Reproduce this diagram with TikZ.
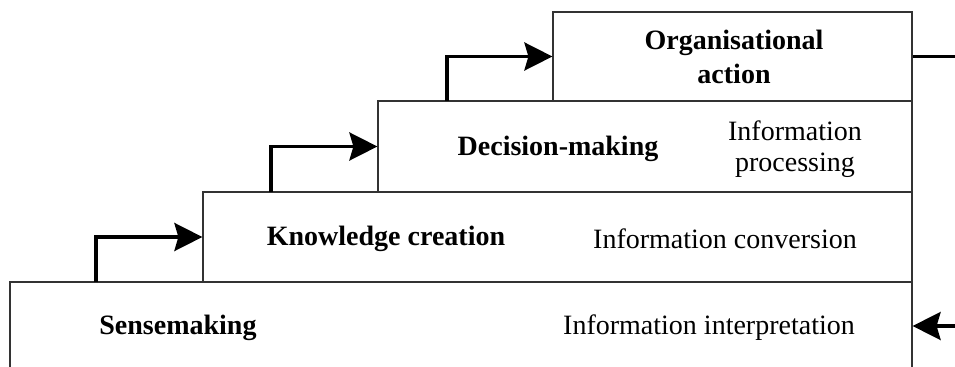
\documentclass[tikz,border=0pt]{standalone}
\usepackage{fontspec}
\setmainfont{Liberation Serif}
\usetikzlibrary{arrows.meta,fit}

\begin{document}
\begin{tikzpicture}[x=0.75pt,y=0.75pt,yscale=-1,xscale=1,
  stage/.style={draw=black!80, line width=0.9pt, inner sep=0pt},
  head/.style={font=\fontsize{21}{25}\selectfont\bfseries, align=center, inner sep=0.75pt},
  info/.style={font=\fontsize{21}{23}\selectfont, align=center, inner sep=0.75pt},
  flow/.style={line width=2.6pt, -{Stealth[length=21pt,width=21pt,inset=3pt]}},
  link/.style={line width=2.6pt}]
\useasboundingbox (0,0) rectangle (955,367);

%Stages (boxes)
\node [stage, fit={(10,282) (912,370)}] (sense) {};
\node [stage, fit={(203,192) (912,282)}] (know) {};
\node [stage, fit={(378,101) (912,192)}] (decide) {};
\node [stage, fit={(553,12) (912,101)}] (act) {};

%Start points of the step arrows
\coordinate (s1) at (96,282);
\coordinate (s2) at (271,192);
\coordinate (s3) at (447,101);
%Outside ends on the right
\coordinate (outR) at (955,56.5);
\coordinate (inR) at (955,326);

%Step arrows
\draw [flow] (s1) |- (know.west);
\draw [flow] (s2) |- (decide.west);
\draw [flow] (s3) |- (act.west);
%Right side
\draw [link] (act.east) -- (outR);
\draw [flow] (inR) -- (sense.east |- inR);

% Text Node
\node [head] (senseTxt) at (178,328) {Sensemaking};
% Text Node
\node [info] (senseInfo) at (709,328) {Information interpretation};
% Text Node
\node [head] (knowTxt) at (386,239) {Knowledge creation};
% Text Node
\node [info] (knowInfo) at (725,239) {Information conversion};
% Text Node
\node [head] (decideTxt) at (558,149) {Decision-making};
% Text Node
\node [info] (decideInfo) at (795,149) {Information\\processing};
% Text Node
\node [head] (actTxt) at (734,57) {Organisational\\action};

\end{tikzpicture}
\end{document}
